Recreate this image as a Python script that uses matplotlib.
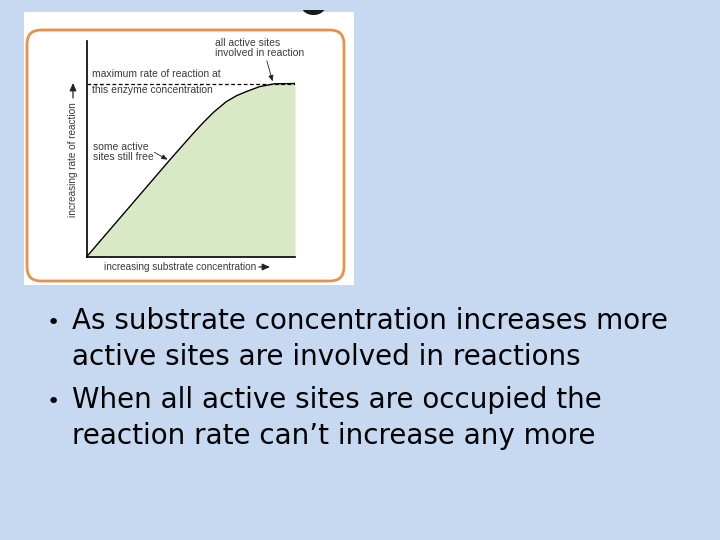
import matplotlib
matplotlib.use('Agg')
import matplotlib.pyplot as plt
import numpy as np
from matplotlib.patches import Rectangle, FancyBboxPatch, Polygon
from matplotlib.transforms import Affine2D

# curve
substrate = [0, 4.0, 5.1, 5.6, 6.1, 6.7, 7.2, 7.7, 8.3, 9.0, 10]
rate = [0, 5.6, 7.1, 7.75, 8.35, 8.95, 9.3, 9.55, 9.82, 9.98, 10]
max_rate = 10

bullets = [
    ["As substrate concentration increases more",
     "active sites are involved in reactions"],
    ["When all active sites are occupied the",
     "reaction rate can\u2019t increase any more"],
]

W, H = 720, 540
fig = plt.figure(figsize=(7.2, 5.4), dpi=100, facecolor='#C6D9F1')
# pixel coords, origin top left
px = Affine2D().scale(1 / 100, -1 / 100).translate(0, H / 100) + fig.dpi_scale_trans

# white picture panel + orange frame
panel = Rectangle((24, 12), 330, 273, transform=px, facecolor='white',
                  edgecolor='none', zorder=0)
fig.add_artist(panel)
# bottom of a dark round thing cut off at the top of the picture
th = np.linspace(0, np.pi, 60)
bx = 313.5 + 12 * np.cos(th)
by = np.maximum(6.0 + 9.0 * np.sin(th), 10)
blob = Polygon(np.column_stack([bx, by]), closed=True, transform=px,
               facecolor='#1a1a1a', edgecolor='none', zorder=0)
fig.add_artist(blob)
frame = FancyBboxPatch((27 + 14, 30 + 14), 317 - 28, 251 - 28,
                       boxstyle='round,pad=14', transform=px, zorder=0,
                       facecolor='none', edgecolor='#E8914A', linewidth=2)
fig.add_artist(frame)

# chart axes
l, r, b, t = 86.7, 295, 256.7, 41
ax = fig.add_axes([l / W, 1 - b / H, (r - l) / W, (b - t) / H])
ax.set_zorder(5)
ax.set_facecolor('none')
ax.set_xlim(0, 10)
ax.set_ylim(0, (b - t) / (b - 83.5) * max_rate)
for s in ['top', 'right']:
    ax.spines[s].set_visible(False)
for s in ['left', 'bottom']:
    ax.spines[s].set_linewidth(1.2)
ax.set_xticks([])
ax.set_yticks([])

ax.fill_between(substrate, rate, 0, color='#D9E8C5', linewidth=0)
ax.plot(substrate, rate, color='black', lw=1)
ax.plot([0, 10], [max_rate, max_rate], color='black', lw=0.9, ls=(0, (3, 2)))

fnt = ['Liberation Sans Narrow', 'Liberation Sans', 'DejaVu Sans']
tc = '#3a3a3a'
kw = dict(family=fnt, fontsize=7.5, color=tc, clip_on=False)
ax.text(0.25, 10.55, 'maximum rate of reaction at', va='center', **kw)
ax.text(0.25, 9.62, 'this enzyme concentration', va='center', **kw)
ax.text(6.16, 12.05, 'all active sites\ninvolved in reaction', va='center',
        linespacing=1.0, **kw)
ax.text(0.3, 6.05, 'some active\nsites still free', va='center', linespacing=1.0, **kw)
kw['fontsize'] = 7.2
ax.text(-0.66, 5.58, 'increasing rate of reaction', rotation=90,
        ha='center', va='center', **kw)
ax.text(4.5, -0.6, 'increasing substrate concentration', ha='center', va='center', **kw)

arr = dict(arrowstyle='-|>,head_length=0.35,head_width=0.15', color='#222222', lw=0.6)
ax.annotate('', xy=(8.96, 9.97), xytext=(8.61, 11.47), arrowprops=arr, annotation_clip=False)
ax.annotate('', xy=(4.0, 5.53), xytext=(3.13, 6.1), arrowprops=arr, annotation_clip=False)
# arrows on the axis labels
arr2 = dict(arrowstyle='-|>,head_length=0.45,head_width=0.2', color='#222222', lw=0.9,
            shrinkA=0, shrinkB=0)
ax.annotate('', xy=(73, 83), xycoords=px, xytext=(73, 98), textcoords=px,
            arrowprops=arr2, annotation_clip=False)
ax.annotate('', xy=(270, 267), xycoords=px, xytext=(259, 267), textcoords=px,
            arrowprops=arr2, annotation_clip=False)

# bullet text
y0 = 329
for item in bullets:
    fig.text(53, y0, '\u2022', transform=px, fontsize=16, ha='center', va='baseline',
             family='DejaVu Sans')
    for line in item:
        fig.text(72, y0, line, transform=px, fontsize=20, va='baseline',
                 color='black', family='DejaVu Sans')
        y0 += 36
    y0 += 7

fig.savefig('out.png', dpi=100, facecolor=fig.get_facecolor())
